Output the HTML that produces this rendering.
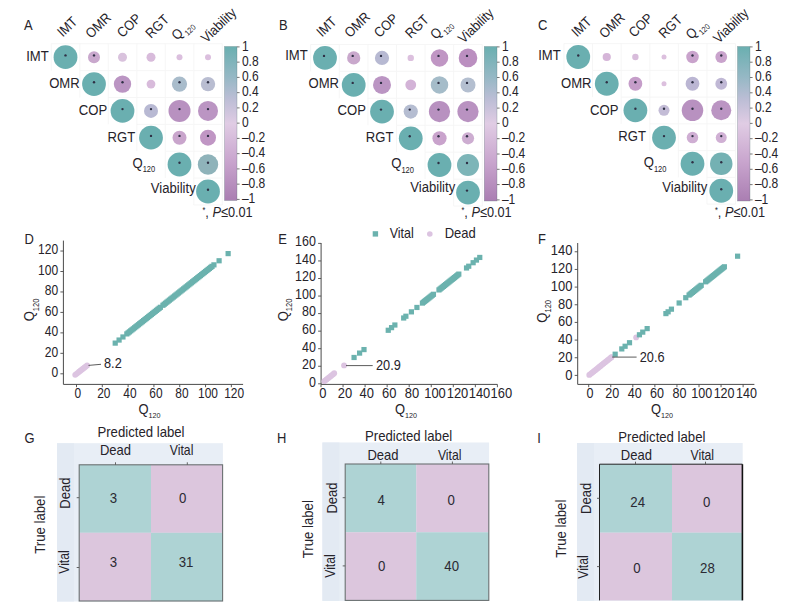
<!DOCTYPE html>
<html><head><meta charset="utf-8"><title>Figure</title>
<style>
html,body{margin:0;padding:0;background:#fff;}
body{width:800px;height:612px;overflow:hidden;font-family:"Liberation Sans",sans-serif;}
svg{display:block;font-family:"Liberation Sans",sans-serif;}
</style></head><body>
<svg width="800" height="612" viewBox="0 0 800 612">
<rect width="800" height="612" fill="#fff"/>
<defs><linearGradient id="cbgrad" x1="0" y1="0" x2="0" y2="1">
<stop offset="0.000" stop-color="#6aafb0"/>
<stop offset="0.200" stop-color="#96b8c5"/>
<stop offset="0.350" stop-color="#bebed6"/>
<stop offset="0.500" stop-color="#e0cce4"/>
<stop offset="0.750" stop-color="#c8a4cd"/>
<stop offset="1.000" stop-color="#aa7eb2"/>
</linearGradient></defs>
<path d="M51.25 43.77 H222.25 M51.25 43.77 V70.63" stroke="#f5f5f5" stroke-width="0.9" fill="none"/>
<path d="M79.75 70.63 H222.25 M79.75 70.63 V97.49" stroke="#f5f5f5" stroke-width="0.9" fill="none"/>
<path d="M108.25 97.49 H222.25 M108.25 97.49 V124.35" stroke="#f5f5f5" stroke-width="0.9" fill="none"/>
<path d="M136.75 124.35 H222.25 M136.75 124.35 V151.21" stroke="#f5f5f5" stroke-width="0.9" fill="none"/>
<path d="M165.25 151.21 H222.25 M165.25 151.21 V178.07" stroke="#f5f5f5" stroke-width="0.9" fill="none"/>
<path d="M193.75 178.07 H222.25 M193.75 178.07 V204.93" stroke="#f5f5f5" stroke-width="0.9" fill="none"/>
<path d="M222.25 43.77 V204.93 H193.75" stroke="#f5f5f5" stroke-width="0.9" fill="none"/>
<line x1="79.75" y1="43.77" x2="79.75" y2="70.63" stroke="#f5f5f5" stroke-width="0.9"/>
<line x1="108.25" y1="43.77" x2="108.25" y2="97.49" stroke="#f5f5f5" stroke-width="0.9"/>
<line x1="136.75" y1="43.77" x2="136.75" y2="124.35" stroke="#f5f5f5" stroke-width="0.9"/>
<line x1="165.25" y1="43.77" x2="165.25" y2="151.21" stroke="#f5f5f5" stroke-width="0.9"/>
<line x1="193.75" y1="43.77" x2="193.75" y2="178.07" stroke="#f5f5f5" stroke-width="0.9"/>
<text transform="translate(24.00 30.30) scale(0.9 1)" font-size="14.4" text-anchor="start" fill="#26232a">A</text>
<text transform="translate(62.75 37.60) rotate(-44) scale(0.9 1)" font-size="13.9" text-anchor="start" fill="#26232a">IMT</text>
<text transform="translate(90.90 38.90) rotate(-44) scale(0.9 1)" font-size="13.9" text-anchor="start" fill="#26232a">OMR</text>
<text transform="translate(122.50 38.25) rotate(-44) scale(0.9 1)" font-size="13.9" text-anchor="start" fill="#26232a">COP</text>
<text transform="translate(151.00 38.90) rotate(-44) scale(0.9 1)" font-size="13.9" text-anchor="start" fill="#26232a">RGT</text>
<text transform="translate(177.00 40.75) rotate(-44) scale(0.9 1)" font-size="13.9" text-anchor="start" fill="#26232a">Q<tspan font-size="8" dy="4.1" dx="1.2">120</tspan></text>
<text transform="translate(206.50 43.50) rotate(-44) scale(0.9 1)" font-size="13.9" text-anchor="start" fill="#26232a">Viability</text>
<text transform="translate(48.70 60.70) scale(0.885 1)" font-size="14.8" text-anchor="end" fill="#26232a">IMT</text>
<text transform="translate(79.70 87.60) scale(0.885 1)" font-size="14.8" text-anchor="end" fill="#26232a">OMR</text>
<text transform="translate(107.20 115.20) scale(0.885 1)" font-size="14.8" text-anchor="end" fill="#26232a">COP</text>
<text transform="translate(135.20 141.80) scale(0.885 1)" font-size="14.8" text-anchor="end" fill="#26232a">RGT</text>
<text transform="translate(132.50 168.00) scale(0.885 1)" font-size="14.8" text-anchor="start" fill="#26232a">Q<tspan font-size="8.5" dy="4.4" dx="0">120</tspan></text>
<text transform="translate(195.70 193.10) scale(0.885 1)" font-size="14.8" text-anchor="end" fill="#26232a">Viability</text>
<circle cx="65.50" cy="57.20" r="11.9" fill="#6aafb0"/>
<circle cx="65.50" cy="55.40" r="1.2" fill="#2f3045"/>
<circle cx="94.00" cy="84.10" r="11.9" fill="#6aafb0"/>
<circle cx="94.00" cy="82.30" r="1.2" fill="#2f3045"/>
<circle cx="122.50" cy="110.90" r="11.9" fill="#6aafb0"/>
<circle cx="122.50" cy="109.10" r="1.2" fill="#2f3045"/>
<circle cx="151.00" cy="137.70" r="11.9" fill="#6aafb0"/>
<circle cx="151.00" cy="135.90" r="1.2" fill="#2f3045"/>
<circle cx="179.50" cy="164.50" r="11.9" fill="#6aafb0"/>
<circle cx="179.50" cy="162.70" r="1.2" fill="#2f3045"/>
<circle cx="208.00" cy="191.50" r="11.9" fill="#6aafb0"/>
<circle cx="208.00" cy="189.70" r="1.2" fill="#2f3045"/>
<circle cx="94.00" cy="57.20" r="6" fill="#c9a8cd"/>
<circle cx="94.00" cy="55.40" r="1.2" fill="#2f3045"/>
<circle cx="122.50" cy="57.20" r="4.5" fill="#d9c2dd"/>
<circle cx="151.00" cy="57.20" r="4.5" fill="#d8bbdb"/>
<circle cx="179.50" cy="57.20" r="3" fill="#dbbfde"/>
<circle cx="208.00" cy="57.20" r="3" fill="#dbbfde"/>
<circle cx="122.50" cy="84.10" r="8.7" fill="#bb95c3"/>
<circle cx="122.50" cy="82.30" r="1.2" fill="#2f3045"/>
<circle cx="151.00" cy="84.10" r="4.4" fill="#d8bbdb"/>
<circle cx="179.50" cy="84.10" r="7.6" fill="#a9bccb"/>
<circle cx="179.50" cy="82.30" r="1.2" fill="#2f3045"/>
<circle cx="208.00" cy="84.10" r="7.2" fill="#b9bdd1"/>
<circle cx="208.00" cy="82.30" r="1.2" fill="#2f3045"/>
<circle cx="151.00" cy="110.90" r="7" fill="#b8b9d3"/>
<circle cx="151.00" cy="109.10" r="1.2" fill="#2f3045"/>
<circle cx="179.50" cy="110.90" r="11" fill="#b891c0"/>
<circle cx="179.50" cy="109.10" r="1.2" fill="#2f3045"/>
<circle cx="208.00" cy="110.90" r="10" fill="#bb95c3"/>
<circle cx="208.00" cy="109.10" r="1.2" fill="#2f3045"/>
<circle cx="179.50" cy="137.70" r="7" fill="#c9a5cc"/>
<circle cx="179.50" cy="135.90" r="1.2" fill="#2f3045"/>
<circle cx="208.00" cy="137.70" r="8" fill="#c096c4"/>
<circle cx="208.00" cy="135.90" r="1.2" fill="#2f3045"/>
<circle cx="208.00" cy="164.50" r="10.2" fill="#8fb3ba"/>
<circle cx="208.00" cy="162.70" r="1.2" fill="#2f3045"/>
<rect x="224.5" y="46.5" width="12.50" height="154.00" fill="url(#cbgrad)" stroke="#50686c" stroke-opacity="0.45" stroke-width="0.6"/>
<line x1="237" y1="46.90" x2="239.6" y2="46.90" stroke="#555" stroke-width="0.8"/>
<text transform="translate(241.90 50.50) scale(0.86 1)" font-size="14" text-anchor="start" fill="#26232a">1</text>
<line x1="237" y1="62.15" x2="239.6" y2="62.15" stroke="#555" stroke-width="0.8"/>
<text transform="translate(241.90 65.75) scale(0.86 1)" font-size="14" text-anchor="start" fill="#26232a">0.8</text>
<line x1="237" y1="77.40" x2="239.6" y2="77.40" stroke="#555" stroke-width="0.8"/>
<text transform="translate(241.90 81.00) scale(0.86 1)" font-size="14" text-anchor="start" fill="#26232a">0.6</text>
<line x1="237" y1="92.65" x2="239.6" y2="92.65" stroke="#555" stroke-width="0.8"/>
<text transform="translate(241.90 96.25) scale(0.86 1)" font-size="14" text-anchor="start" fill="#26232a">0.4</text>
<line x1="237" y1="107.90" x2="239.6" y2="107.90" stroke="#555" stroke-width="0.8"/>
<text transform="translate(241.90 111.50) scale(0.86 1)" font-size="14" text-anchor="start" fill="#26232a">0.2</text>
<line x1="237" y1="123.15" x2="239.6" y2="123.15" stroke="#555" stroke-width="0.8"/>
<text transform="translate(241.90 126.75) scale(0.86 1)" font-size="14" text-anchor="start" fill="#26232a">0</text>
<line x1="237" y1="138.40" x2="239.6" y2="138.40" stroke="#555" stroke-width="0.8"/>
<text transform="translate(241.90 142.00) scale(0.86 1)" font-size="14" text-anchor="start" fill="#26232a">–0.2</text>
<line x1="237" y1="153.65" x2="239.6" y2="153.65" stroke="#555" stroke-width="0.8"/>
<text transform="translate(241.90 157.25) scale(0.86 1)" font-size="14" text-anchor="start" fill="#26232a">–0.4</text>
<line x1="237" y1="168.90" x2="239.6" y2="168.90" stroke="#555" stroke-width="0.8"/>
<text transform="translate(241.90 172.50) scale(0.86 1)" font-size="14" text-anchor="start" fill="#26232a">–0.6</text>
<line x1="237" y1="184.15" x2="239.6" y2="184.15" stroke="#555" stroke-width="0.8"/>
<text transform="translate(241.90 187.75) scale(0.86 1)" font-size="14" text-anchor="start" fill="#26232a">–0.8</text>
<line x1="237" y1="199.40" x2="239.6" y2="199.40" stroke="#555" stroke-width="0.8"/>
<text transform="translate(241.90 203.00) scale(0.86 1)" font-size="14" text-anchor="start" fill="#26232a">–1</text>
<text transform="translate(202.50 217.30) scale(0.85 1)" font-size="15" text-anchor="start" fill="#26232a"><tspan font-size="8.5" dy="-4">*</tspan><tspan dy="4">, </tspan><tspan font-style="italic">P</tspan>≤0.01</text>
<path d="M310.70 44.43 H482.30 M310.70 44.43 V71.37" stroke="#f5f5f5" stroke-width="0.9" fill="none"/>
<path d="M339.30 71.37 H482.30 M339.30 71.37 V98.31" stroke="#f5f5f5" stroke-width="0.9" fill="none"/>
<path d="M367.90 98.31 H482.30 M367.90 98.31 V125.25" stroke="#f5f5f5" stroke-width="0.9" fill="none"/>
<path d="M396.50 125.25 H482.30 M396.50 125.25 V152.19" stroke="#f5f5f5" stroke-width="0.9" fill="none"/>
<path d="M425.10 152.19 H482.30 M425.10 152.19 V179.13" stroke="#f5f5f5" stroke-width="0.9" fill="none"/>
<path d="M453.70 179.13 H482.30 M453.70 179.13 V206.07" stroke="#f5f5f5" stroke-width="0.9" fill="none"/>
<path d="M482.30 44.43 V206.07 H453.70" stroke="#f5f5f5" stroke-width="0.9" fill="none"/>
<line x1="339.30" y1="44.43" x2="339.30" y2="71.37" stroke="#f5f5f5" stroke-width="0.9"/>
<line x1="367.90" y1="44.43" x2="367.90" y2="98.31" stroke="#f5f5f5" stroke-width="0.9"/>
<line x1="396.50" y1="44.43" x2="396.50" y2="125.25" stroke="#f5f5f5" stroke-width="0.9"/>
<line x1="425.10" y1="44.43" x2="425.10" y2="152.19" stroke="#f5f5f5" stroke-width="0.9"/>
<line x1="453.70" y1="44.43" x2="453.70" y2="179.13" stroke="#f5f5f5" stroke-width="0.9"/>
<text transform="translate(279.00 30.30) scale(0.9 1)" font-size="14.4" text-anchor="start" fill="#26232a">B</text>
<text transform="translate(321.90 37.60) rotate(-44) scale(0.9 1)" font-size="13.9" text-anchor="start" fill="#26232a">IMT</text>
<text transform="translate(349.95 38.25) rotate(-44) scale(0.9 1)" font-size="13.9" text-anchor="start" fill="#26232a">OMR</text>
<text transform="translate(379.50 38.25) rotate(-44) scale(0.9 1)" font-size="13.9" text-anchor="start" fill="#26232a">COP</text>
<text transform="translate(410.75 39.00) rotate(-44) scale(0.9 1)" font-size="13.9" text-anchor="start" fill="#26232a">RGT</text>
<text transform="translate(435.75 40.10) rotate(-44) scale(0.9 1)" font-size="13.9" text-anchor="start" fill="#26232a">Q<tspan font-size="8" dy="4.1" dx="1.2">120</tspan></text>
<text transform="translate(463.60 43.90) rotate(-44) scale(0.9 1)" font-size="13.9" text-anchor="start" fill="#26232a">Viability</text>
<text transform="translate(307.70 60.20) scale(0.885 1)" font-size="14.8" text-anchor="end" fill="#26232a">IMT</text>
<text transform="translate(339.00 87.70) scale(0.885 1)" font-size="14.8" text-anchor="end" fill="#26232a">OMR</text>
<text transform="translate(366.00 114.60) scale(0.885 1)" font-size="14.8" text-anchor="end" fill="#26232a">COP</text>
<text transform="translate(393.50 141.90) scale(0.885 1)" font-size="14.8" text-anchor="end" fill="#26232a">RGT</text>
<text transform="translate(391.25 168.10) scale(0.885 1)" font-size="14.8" text-anchor="start" fill="#26232a">Q<tspan font-size="8.5" dy="4.4" dx="0">120</tspan></text>
<text transform="translate(455.20 192.20) scale(0.885 1)" font-size="14.8" text-anchor="end" fill="#26232a">Viability</text>
<circle cx="325.00" cy="57.90" r="11.9" fill="#6aafb0"/>
<circle cx="324.00" cy="55.90" r="1.2" fill="#2f3045"/>
<circle cx="353.70" cy="84.90" r="11.9" fill="#6aafb0"/>
<circle cx="352.70" cy="82.90" r="1.2" fill="#2f3045"/>
<circle cx="382.00" cy="111.60" r="11.9" fill="#6aafb0"/>
<circle cx="381.00" cy="109.60" r="1.2" fill="#2f3045"/>
<circle cx="410.75" cy="138.30" r="11.9" fill="#6aafb0"/>
<circle cx="409.75" cy="136.30" r="1.2" fill="#2f3045"/>
<circle cx="439.50" cy="165.00" r="11.9" fill="#6aafb0"/>
<circle cx="438.50" cy="163.00" r="1.2" fill="#2f3045"/>
<circle cx="468.00" cy="192.60" r="11.9" fill="#6aafb0"/>
<circle cx="467.00" cy="190.60" r="1.2" fill="#2f3045"/>
<circle cx="353.70" cy="57.90" r="6.6" fill="#c9a8cc"/>
<circle cx="352.70" cy="55.90" r="1.2" fill="#2f3045"/>
<circle cx="382.00" cy="57.90" r="7.1" fill="#b7b9d2"/>
<circle cx="381.00" cy="55.90" r="1.2" fill="#2f3045"/>
<circle cx="410.75" cy="57.90" r="3.2" fill="#dcc0de"/>
<circle cx="439.50" cy="57.90" r="8.75" fill="#c096c4"/>
<circle cx="438.50" cy="55.90" r="1.2" fill="#2f3045"/>
<circle cx="468.00" cy="57.90" r="9.3" fill="#bb8fc0"/>
<circle cx="467.00" cy="55.90" r="1.2" fill="#2f3045"/>
<circle cx="382.00" cy="84.90" r="9" fill="#bb95c3"/>
<circle cx="381.00" cy="82.90" r="1.2" fill="#2f3045"/>
<circle cx="410.75" cy="84.90" r="5.4" fill="#d3b3d7"/>
<circle cx="439.50" cy="84.90" r="8.75" fill="#a5bcc9"/>
<circle cx="438.50" cy="82.90" r="1.2" fill="#2f3045"/>
<circle cx="468.00" cy="84.90" r="7.5" fill="#b4bfd0"/>
<circle cx="467.00" cy="82.90" r="1.2" fill="#2f3045"/>
<circle cx="410.75" cy="111.60" r="7.1" fill="#b5bdd1"/>
<circle cx="409.75" cy="109.60" r="1.2" fill="#2f3045"/>
<circle cx="439.50" cy="111.60" r="10.6" fill="#b891c0"/>
<circle cx="438.50" cy="109.60" r="1.2" fill="#2f3045"/>
<circle cx="468.00" cy="111.60" r="10.6" fill="#b992c1"/>
<circle cx="467.00" cy="109.60" r="1.2" fill="#2f3045"/>
<circle cx="439.50" cy="138.30" r="7.1" fill="#c9a3cc"/>
<circle cx="438.50" cy="136.30" r="1.2" fill="#2f3045"/>
<circle cx="468.00" cy="138.30" r="6.1" fill="#cdadd1"/>
<circle cx="467.00" cy="136.30" r="1.2" fill="#2f3045"/>
<circle cx="468.00" cy="165.00" r="11" fill="#7db5b8"/>
<circle cx="467.00" cy="163.00" r="1.2" fill="#2f3045"/>
<rect x="484.3" y="46.5" width="12.70" height="154.50" fill="url(#cbgrad)" stroke="#50686c" stroke-opacity="0.45" stroke-width="0.6"/>
<line x1="497" y1="46.90" x2="499.6" y2="46.90" stroke="#555" stroke-width="0.8"/>
<text transform="translate(501.90 50.50) scale(0.86 1)" font-size="14" text-anchor="start" fill="#26232a">1</text>
<line x1="497" y1="62.20" x2="499.6" y2="62.20" stroke="#555" stroke-width="0.8"/>
<text transform="translate(501.90 65.80) scale(0.86 1)" font-size="14" text-anchor="start" fill="#26232a">0.8</text>
<line x1="497" y1="77.50" x2="499.6" y2="77.50" stroke="#555" stroke-width="0.8"/>
<text transform="translate(501.90 81.10) scale(0.86 1)" font-size="14" text-anchor="start" fill="#26232a">0.6</text>
<line x1="497" y1="92.80" x2="499.6" y2="92.80" stroke="#555" stroke-width="0.8"/>
<text transform="translate(501.90 96.40) scale(0.86 1)" font-size="14" text-anchor="start" fill="#26232a">0.4</text>
<line x1="497" y1="108.10" x2="499.6" y2="108.10" stroke="#555" stroke-width="0.8"/>
<text transform="translate(501.90 111.70) scale(0.86 1)" font-size="14" text-anchor="start" fill="#26232a">0.2</text>
<line x1="497" y1="123.40" x2="499.6" y2="123.40" stroke="#555" stroke-width="0.8"/>
<text transform="translate(501.90 127.00) scale(0.86 1)" font-size="14" text-anchor="start" fill="#26232a">0</text>
<line x1="497" y1="138.70" x2="499.6" y2="138.70" stroke="#555" stroke-width="0.8"/>
<text transform="translate(501.90 142.30) scale(0.86 1)" font-size="14" text-anchor="start" fill="#26232a">–0.2</text>
<line x1="497" y1="154.00" x2="499.6" y2="154.00" stroke="#555" stroke-width="0.8"/>
<text transform="translate(501.90 157.60) scale(0.86 1)" font-size="14" text-anchor="start" fill="#26232a">–0.4</text>
<line x1="497" y1="169.30" x2="499.6" y2="169.30" stroke="#555" stroke-width="0.8"/>
<text transform="translate(501.90 172.90) scale(0.86 1)" font-size="14" text-anchor="start" fill="#26232a">–0.6</text>
<line x1="497" y1="184.60" x2="499.6" y2="184.60" stroke="#555" stroke-width="0.8"/>
<text transform="translate(501.90 188.20) scale(0.86 1)" font-size="14" text-anchor="start" fill="#26232a">–0.8</text>
<line x1="497" y1="199.90" x2="499.6" y2="199.90" stroke="#555" stroke-width="0.8"/>
<text transform="translate(501.90 203.50) scale(0.86 1)" font-size="14" text-anchor="start" fill="#26232a">–1</text>
<text transform="translate(461.50 217.30) scale(0.85 1)" font-size="15" text-anchor="start" fill="#26232a"><tspan font-size="8.5" dy="-4">*</tspan><tspan dy="4">, </tspan><tspan font-style="italic">P</tspan>≤0.01</text>
<path d="M563.95 43.62 H735.55 M563.95 43.62 V70.38" stroke="#f5f5f5" stroke-width="0.9" fill="none"/>
<path d="M592.55 70.38 H735.55 M592.55 70.38 V97.12" stroke="#f5f5f5" stroke-width="0.9" fill="none"/>
<path d="M621.15 97.12 H735.55 M621.15 97.12 V123.88" stroke="#f5f5f5" stroke-width="0.9" fill="none"/>
<path d="M649.75 123.88 H735.55 M649.75 123.88 V150.62" stroke="#f5f5f5" stroke-width="0.9" fill="none"/>
<path d="M678.35 150.62 H735.55 M678.35 150.62 V177.38" stroke="#f5f5f5" stroke-width="0.9" fill="none"/>
<path d="M706.95 177.38 H735.55 M706.95 177.38 V204.12" stroke="#f5f5f5" stroke-width="0.9" fill="none"/>
<path d="M735.55 43.62 V204.12 H706.95" stroke="#f5f5f5" stroke-width="0.9" fill="none"/>
<line x1="592.55" y1="43.62" x2="592.55" y2="70.38" stroke="#f5f5f5" stroke-width="0.9"/>
<line x1="621.15" y1="43.62" x2="621.15" y2="97.12" stroke="#f5f5f5" stroke-width="0.9"/>
<line x1="649.75" y1="43.62" x2="649.75" y2="123.88" stroke="#f5f5f5" stroke-width="0.9"/>
<line x1="678.35" y1="43.62" x2="678.35" y2="150.62" stroke="#f5f5f5" stroke-width="0.9"/>
<line x1="706.95" y1="43.62" x2="706.95" y2="177.38" stroke="#f5f5f5" stroke-width="0.9"/>
<text transform="translate(538.00 30.30) scale(0.9 1)" font-size="14.4" text-anchor="start" fill="#26232a">C</text>
<text transform="translate(577.00 37.60) rotate(-44) scale(0.9 1)" font-size="13.9" text-anchor="start" fill="#26232a">IMT</text>
<text transform="translate(604.85 38.90) rotate(-44) scale(0.9 1)" font-size="13.9" text-anchor="start" fill="#26232a">OMR</text>
<text transform="translate(634.15 38.00) rotate(-44) scale(0.9 1)" font-size="13.9" text-anchor="start" fill="#26232a">COP</text>
<text transform="translate(664.30 39.00) rotate(-44) scale(0.9 1)" font-size="13.9" text-anchor="start" fill="#26232a">RGT</text>
<text transform="translate(691.25 40.10) rotate(-44) scale(0.9 1)" font-size="13.9" text-anchor="start" fill="#26232a">Q<tspan font-size="8" dy="4.1" dx="1.2">120</tspan></text>
<text transform="translate(718.75 43.90) rotate(-44) scale(0.9 1)" font-size="13.9" text-anchor="start" fill="#26232a">Viability</text>
<text transform="translate(560.70 60.10) scale(0.885 1)" font-size="14.8" text-anchor="end" fill="#26232a">IMT</text>
<text transform="translate(591.50 87.55) scale(0.885 1)" font-size="14.8" text-anchor="end" fill="#26232a">OMR</text>
<text transform="translate(618.50 115.10) scale(0.885 1)" font-size="14.8" text-anchor="end" fill="#26232a">COP</text>
<text transform="translate(646.00 141.00) scale(0.885 1)" font-size="14.8" text-anchor="end" fill="#26232a">RGT</text>
<text transform="translate(643.75 167.25) scale(0.885 1)" font-size="14.8" text-anchor="start" fill="#26232a">Q<tspan font-size="8.5" dy="4.4" dx="0">120</tspan></text>
<text transform="translate(707.20 191.95) scale(0.885 1)" font-size="14.8" text-anchor="end" fill="#26232a">Viability</text>
<circle cx="578.25" cy="57.00" r="11.9" fill="#6aafb0"/>
<circle cx="578.25" cy="55.50" r="1.2" fill="#2f3045"/>
<circle cx="606.75" cy="83.75" r="11.9" fill="#6aafb0"/>
<circle cx="606.75" cy="82.25" r="1.2" fill="#2f3045"/>
<circle cx="635.40" cy="110.30" r="11.9" fill="#6aafb0"/>
<circle cx="635.40" cy="108.80" r="1.2" fill="#2f3045"/>
<circle cx="664.00" cy="137.60" r="11.9" fill="#6aafb0"/>
<circle cx="664.00" cy="136.10" r="1.2" fill="#2f3045"/>
<circle cx="692.50" cy="163.75" r="11.9" fill="#6aafb0"/>
<circle cx="692.50" cy="162.25" r="1.2" fill="#2f3045"/>
<circle cx="721.25" cy="190.75" r="11.9" fill="#6aafb0"/>
<circle cx="721.25" cy="189.25" r="1.2" fill="#2f3045"/>
<circle cx="606.75" cy="57.00" r="4.1" fill="#d5b5d8"/>
<circle cx="635.40" cy="57.00" r="3.2" fill="#d8bcdb"/>
<circle cx="664.00" cy="57.00" r="2.5" fill="#dcc0de"/>
<circle cx="692.50" cy="57.00" r="6.25" fill="#c9a3cc"/>
<circle cx="692.50" cy="55.50" r="1.2" fill="#2f3045"/>
<circle cx="721.25" cy="57.00" r="5.9" fill="#c9a3cc"/>
<circle cx="721.25" cy="55.50" r="1.2" fill="#2f3045"/>
<circle cx="635.40" cy="83.75" r="6.9" fill="#c59dc9"/>
<circle cx="635.40" cy="82.25" r="1.2" fill="#2f3045"/>
<circle cx="664.00" cy="83.75" r="2.5" fill="#dcc0de"/>
<circle cx="692.50" cy="83.75" r="6.9" fill="#bbb6d3"/>
<circle cx="692.50" cy="82.25" r="1.2" fill="#2f3045"/>
<circle cx="721.25" cy="83.75" r="5.9" fill="#c0b8d5"/>
<circle cx="721.25" cy="82.25" r="1.2" fill="#2f3045"/>
<circle cx="664.00" cy="110.30" r="5.5" fill="#c3bcd6"/>
<circle cx="664.00" cy="108.80" r="1.2" fill="#2f3045"/>
<circle cx="692.50" cy="110.30" r="10.75" fill="#b891c0"/>
<circle cx="692.50" cy="108.80" r="1.2" fill="#2f3045"/>
<circle cx="721.25" cy="110.30" r="10" fill="#bb95c3"/>
<circle cx="721.25" cy="108.80" r="1.2" fill="#2f3045"/>
<circle cx="692.50" cy="137.60" r="5.75" fill="#cfaed3"/>
<circle cx="692.50" cy="136.10" r="1.2" fill="#2f3045"/>
<circle cx="721.25" cy="137.60" r="5.5" fill="#d0b0d4"/>
<circle cx="721.25" cy="136.10" r="1.2" fill="#2f3045"/>
<circle cx="721.25" cy="163.75" r="11.25" fill="#74b1b3"/>
<circle cx="721.25" cy="162.25" r="1.2" fill="#2f3045"/>
<rect x="737.5" y="46.5" width="12.50" height="154.50" fill="url(#cbgrad)" stroke="#50686c" stroke-opacity="0.45" stroke-width="0.6"/>
<line x1="750" y1="46.90" x2="752.6" y2="46.90" stroke="#555" stroke-width="0.8"/>
<text transform="translate(754.90 50.50) scale(0.86 1)" font-size="14" text-anchor="start" fill="#26232a">1</text>
<line x1="750" y1="62.20" x2="752.6" y2="62.20" stroke="#555" stroke-width="0.8"/>
<text transform="translate(754.90 65.80) scale(0.86 1)" font-size="14" text-anchor="start" fill="#26232a">0.8</text>
<line x1="750" y1="77.50" x2="752.6" y2="77.50" stroke="#555" stroke-width="0.8"/>
<text transform="translate(754.90 81.10) scale(0.86 1)" font-size="14" text-anchor="start" fill="#26232a">0.6</text>
<line x1="750" y1="92.80" x2="752.6" y2="92.80" stroke="#555" stroke-width="0.8"/>
<text transform="translate(754.90 96.40) scale(0.86 1)" font-size="14" text-anchor="start" fill="#26232a">0.4</text>
<line x1="750" y1="108.10" x2="752.6" y2="108.10" stroke="#555" stroke-width="0.8"/>
<text transform="translate(754.90 111.70) scale(0.86 1)" font-size="14" text-anchor="start" fill="#26232a">0.2</text>
<line x1="750" y1="123.40" x2="752.6" y2="123.40" stroke="#555" stroke-width="0.8"/>
<text transform="translate(754.90 127.00) scale(0.86 1)" font-size="14" text-anchor="start" fill="#26232a">0</text>
<line x1="750" y1="138.70" x2="752.6" y2="138.70" stroke="#555" stroke-width="0.8"/>
<text transform="translate(754.90 142.30) scale(0.86 1)" font-size="14" text-anchor="start" fill="#26232a">–0.2</text>
<line x1="750" y1="154.00" x2="752.6" y2="154.00" stroke="#555" stroke-width="0.8"/>
<text transform="translate(754.90 157.60) scale(0.86 1)" font-size="14" text-anchor="start" fill="#26232a">–0.4</text>
<line x1="750" y1="169.30" x2="752.6" y2="169.30" stroke="#555" stroke-width="0.8"/>
<text transform="translate(754.90 172.90) scale(0.86 1)" font-size="14" text-anchor="start" fill="#26232a">–0.6</text>
<line x1="750" y1="184.60" x2="752.6" y2="184.60" stroke="#555" stroke-width="0.8"/>
<text transform="translate(754.90 188.20) scale(0.86 1)" font-size="14" text-anchor="start" fill="#26232a">–0.8</text>
<line x1="750" y1="199.90" x2="752.6" y2="199.90" stroke="#555" stroke-width="0.8"/>
<text transform="translate(754.90 203.50) scale(0.86 1)" font-size="14" text-anchor="start" fill="#26232a">–1</text>
<text transform="translate(715.00 217.30) scale(0.85 1)" font-size="15" text-anchor="start" fill="#26232a"><tspan font-size="8.5" dy="-4">*</tspan><tspan dy="4">, </tspan><tspan font-style="italic">P</tspan>≤0.01</text>
<path d="M63.4 240.6 V384.4 H243.1" fill="none" stroke="#4a4a4a" stroke-width="1"/>
<text transform="translate(24.60 244.00) scale(0.9 1)" font-size="14.4" text-anchor="start" fill="#26232a">D</text>
<line x1="60.4" y1="373.80" x2="63.4" y2="373.80" stroke="#4a4a4a" stroke-width="0.9"/>
<text transform="translate(58.10 377.00) scale(0.85 1)" font-size="14.2" text-anchor="end" fill="#26232a">0</text>
<line x1="60.4" y1="353.34" x2="63.4" y2="353.34" stroke="#4a4a4a" stroke-width="0.9"/>
<text transform="translate(58.10 356.54) scale(0.85 1)" font-size="14.2" text-anchor="end" fill="#26232a">20</text>
<line x1="60.4" y1="332.88" x2="63.4" y2="332.88" stroke="#4a4a4a" stroke-width="0.9"/>
<text transform="translate(58.10 336.08) scale(0.85 1)" font-size="14.2" text-anchor="end" fill="#26232a">40</text>
<line x1="60.4" y1="312.42" x2="63.4" y2="312.42" stroke="#4a4a4a" stroke-width="0.9"/>
<text transform="translate(58.10 315.62) scale(0.85 1)" font-size="14.2" text-anchor="end" fill="#26232a">60</text>
<line x1="60.4" y1="291.96" x2="63.4" y2="291.96" stroke="#4a4a4a" stroke-width="0.9"/>
<text transform="translate(58.10 295.16) scale(0.85 1)" font-size="14.2" text-anchor="end" fill="#26232a">80</text>
<line x1="60.4" y1="271.50" x2="63.4" y2="271.50" stroke="#4a4a4a" stroke-width="0.9"/>
<text transform="translate(58.10 274.70) scale(0.85 1)" font-size="14.2" text-anchor="end" fill="#26232a">100</text>
<line x1="60.4" y1="251.04" x2="63.4" y2="251.04" stroke="#4a4a4a" stroke-width="0.9"/>
<text transform="translate(58.10 254.24) scale(0.85 1)" font-size="14.2" text-anchor="end" fill="#26232a">120</text>
<line x1="76.50" y1="384.4" x2="76.50" y2="387.2" stroke="#4a4a4a" stroke-width="0.9"/>
<text transform="translate(77.80 397.70) scale(0.84 1)" font-size="14.2" text-anchor="middle" fill="#26232a">0</text>
<line x1="102.31" y1="384.4" x2="102.31" y2="387.2" stroke="#4a4a4a" stroke-width="0.9"/>
<text transform="translate(103.85 397.70) scale(0.84 1)" font-size="14.2" text-anchor="middle" fill="#26232a">20</text>
<line x1="128.12" y1="384.4" x2="128.12" y2="387.2" stroke="#4a4a4a" stroke-width="0.9"/>
<text transform="translate(129.90 397.70) scale(0.84 1)" font-size="14.2" text-anchor="middle" fill="#26232a">40</text>
<line x1="153.93" y1="384.4" x2="153.93" y2="387.2" stroke="#4a4a4a" stroke-width="0.9"/>
<text transform="translate(155.95 397.70) scale(0.84 1)" font-size="14.2" text-anchor="middle" fill="#26232a">60</text>
<line x1="179.74" y1="384.4" x2="179.74" y2="387.2" stroke="#4a4a4a" stroke-width="0.9"/>
<text transform="translate(182.00 397.70) scale(0.84 1)" font-size="14.2" text-anchor="middle" fill="#26232a">80</text>
<line x1="205.55" y1="384.4" x2="205.55" y2="387.2" stroke="#4a4a4a" stroke-width="0.9"/>
<text transform="translate(208.05 397.70) scale(0.84 1)" font-size="14.2" text-anchor="middle" fill="#26232a">100</text>
<line x1="231.36" y1="384.4" x2="231.36" y2="387.2" stroke="#4a4a4a" stroke-width="0.9"/>
<text transform="translate(234.10 397.70) scale(0.84 1)" font-size="14.2" text-anchor="middle" fill="#26232a">120</text>
<circle cx="75.21" cy="374.82" r="2.9" fill="#dcc4e1"/>
<circle cx="76.50" cy="373.80" r="2.9" fill="#dcc4e1"/>
<circle cx="77.79" cy="372.78" r="2.9" fill="#dcc4e1"/>
<circle cx="79.08" cy="371.75" r="2.9" fill="#dcc4e1"/>
<circle cx="80.37" cy="370.73" r="2.9" fill="#dcc4e1"/>
<circle cx="81.66" cy="369.71" r="2.9" fill="#dcc4e1"/>
<circle cx="82.95" cy="368.69" r="2.9" fill="#dcc4e1"/>
<circle cx="84.24" cy="367.66" r="2.9" fill="#dcc4e1"/>
<circle cx="85.53" cy="366.64" r="2.9" fill="#dcc4e1"/>
<circle cx="87.08" cy="365.41" r="2.9" fill="#dcc4e1"/>
<rect x="112.62" y="340.51" width="5.2" height="5.2" fill="#6bb2ae"/>
<rect x="116.49" y="337.44" width="5.2" height="5.2" fill="#6bb2ae"/>
<rect x="120.36" y="334.37" width="5.2" height="5.2" fill="#6bb2ae"/>
<rect x="124.23" y="331.30" width="5.2" height="5.2" fill="#6bb2ae"/>
<rect x="125.52" y="330.28" width="5.2" height="5.2" fill="#6bb2ae"/>
<rect x="126.81" y="329.26" width="5.2" height="5.2" fill="#6bb2ae"/>
<rect x="128.10" y="328.23" width="5.2" height="5.2" fill="#6bb2ae"/>
<rect x="129.39" y="327.21" width="5.2" height="5.2" fill="#6bb2ae"/>
<rect x="130.68" y="326.19" width="5.2" height="5.2" fill="#6bb2ae"/>
<rect x="131.97" y="325.16" width="5.2" height="5.2" fill="#6bb2ae"/>
<rect x="133.26" y="324.14" width="5.2" height="5.2" fill="#6bb2ae"/>
<rect x="134.55" y="323.12" width="5.2" height="5.2" fill="#6bb2ae"/>
<rect x="135.84" y="322.10" width="5.2" height="5.2" fill="#6bb2ae"/>
<rect x="137.13" y="321.07" width="5.2" height="5.2" fill="#6bb2ae"/>
<rect x="138.43" y="320.05" width="5.2" height="5.2" fill="#6bb2ae"/>
<rect x="139.72" y="319.03" width="5.2" height="5.2" fill="#6bb2ae"/>
<rect x="141.01" y="318.00" width="5.2" height="5.2" fill="#6bb2ae"/>
<rect x="142.30" y="316.98" width="5.2" height="5.2" fill="#6bb2ae"/>
<rect x="143.59" y="315.96" width="5.2" height="5.2" fill="#6bb2ae"/>
<rect x="144.88" y="314.94" width="5.2" height="5.2" fill="#6bb2ae"/>
<rect x="146.17" y="313.91" width="5.2" height="5.2" fill="#6bb2ae"/>
<rect x="147.46" y="312.89" width="5.2" height="5.2" fill="#6bb2ae"/>
<rect x="148.75" y="311.87" width="5.2" height="5.2" fill="#6bb2ae"/>
<rect x="150.04" y="310.84" width="5.2" height="5.2" fill="#6bb2ae"/>
<rect x="151.33" y="309.82" width="5.2" height="5.2" fill="#6bb2ae"/>
<rect x="152.62" y="308.80" width="5.2" height="5.2" fill="#6bb2ae"/>
<rect x="153.91" y="307.77" width="5.2" height="5.2" fill="#6bb2ae"/>
<rect x="155.20" y="306.75" width="5.2" height="5.2" fill="#6bb2ae"/>
<rect x="156.49" y="305.73" width="5.2" height="5.2" fill="#6bb2ae"/>
<rect x="157.78" y="304.70" width="5.2" height="5.2" fill="#6bb2ae"/>
<rect x="160.36" y="302.66" width="5.2" height="5.2" fill="#6bb2ae"/>
<rect x="161.65" y="301.64" width="5.2" height="5.2" fill="#6bb2ae"/>
<rect x="162.94" y="300.61" width="5.2" height="5.2" fill="#6bb2ae"/>
<rect x="164.23" y="299.59" width="5.2" height="5.2" fill="#6bb2ae"/>
<rect x="165.53" y="298.57" width="5.2" height="5.2" fill="#6bb2ae"/>
<rect x="166.82" y="297.54" width="5.2" height="5.2" fill="#6bb2ae"/>
<rect x="168.11" y="296.52" width="5.2" height="5.2" fill="#6bb2ae"/>
<rect x="169.40" y="295.50" width="5.2" height="5.2" fill="#6bb2ae"/>
<rect x="170.69" y="294.48" width="5.2" height="5.2" fill="#6bb2ae"/>
<rect x="171.98" y="293.45" width="5.2" height="5.2" fill="#6bb2ae"/>
<rect x="173.27" y="292.43" width="5.2" height="5.2" fill="#6bb2ae"/>
<rect x="174.56" y="291.41" width="5.2" height="5.2" fill="#6bb2ae"/>
<rect x="175.85" y="290.38" width="5.2" height="5.2" fill="#6bb2ae"/>
<rect x="177.14" y="289.36" width="5.2" height="5.2" fill="#6bb2ae"/>
<rect x="178.43" y="288.34" width="5.2" height="5.2" fill="#6bb2ae"/>
<rect x="179.72" y="287.31" width="5.2" height="5.2" fill="#6bb2ae"/>
<rect x="181.01" y="286.29" width="5.2" height="5.2" fill="#6bb2ae"/>
<rect x="182.30" y="285.27" width="5.2" height="5.2" fill="#6bb2ae"/>
<rect x="183.59" y="284.25" width="5.2" height="5.2" fill="#6bb2ae"/>
<rect x="184.88" y="283.22" width="5.2" height="5.2" fill="#6bb2ae"/>
<rect x="186.17" y="282.20" width="5.2" height="5.2" fill="#6bb2ae"/>
<rect x="187.46" y="281.18" width="5.2" height="5.2" fill="#6bb2ae"/>
<rect x="188.75" y="280.15" width="5.2" height="5.2" fill="#6bb2ae"/>
<rect x="190.04" y="279.13" width="5.2" height="5.2" fill="#6bb2ae"/>
<rect x="191.34" y="278.11" width="5.2" height="5.2" fill="#6bb2ae"/>
<rect x="192.63" y="277.08" width="5.2" height="5.2" fill="#6bb2ae"/>
<rect x="193.92" y="276.06" width="5.2" height="5.2" fill="#6bb2ae"/>
<rect x="195.21" y="275.04" width="5.2" height="5.2" fill="#6bb2ae"/>
<rect x="196.50" y="274.01" width="5.2" height="5.2" fill="#6bb2ae"/>
<rect x="197.79" y="272.99" width="5.2" height="5.2" fill="#6bb2ae"/>
<rect x="199.08" y="271.97" width="5.2" height="5.2" fill="#6bb2ae"/>
<rect x="200.37" y="270.95" width="5.2" height="5.2" fill="#6bb2ae"/>
<rect x="201.66" y="269.92" width="5.2" height="5.2" fill="#6bb2ae"/>
<rect x="202.95" y="268.90" width="5.2" height="5.2" fill="#6bb2ae"/>
<rect x="204.24" y="267.88" width="5.2" height="5.2" fill="#6bb2ae"/>
<rect x="205.53" y="266.85" width="5.2" height="5.2" fill="#6bb2ae"/>
<rect x="206.82" y="265.83" width="5.2" height="5.2" fill="#6bb2ae"/>
<rect x="208.11" y="264.81" width="5.2" height="5.2" fill="#6bb2ae"/>
<rect x="209.40" y="263.78" width="5.2" height="5.2" fill="#6bb2ae"/>
<rect x="211.34" y="262.25" width="5.2" height="5.2" fill="#6bb2ae"/>
<rect x="216.50" y="258.16" width="5.2" height="5.2" fill="#6bb2ae"/>
<rect x="225.53" y="251.00" width="5.2" height="5.2" fill="#6bb2ae"/>
<line x1="88.5" y1="365.4" x2="101" y2="364.3" stroke="#4a4a4a" stroke-width="0.9"/>
<text transform="translate(104.00 367.50) scale(0.9 1)" font-size="14.2" text-anchor="start" fill="#26232a">8.2</text>
<text transform="translate(34.00 310.00) rotate(-90) scale(0.9 1)" font-size="14.4" text-anchor="middle" fill="#26232a">Q<tspan font-size="8.4" dy="4.6" dx="0">120</tspan></text>
<text transform="translate(138.50 414.00) scale(0.9 1)" font-size="14.4" text-anchor="start" fill="#26232a">Q<tspan font-size="8" dy="4.4" dx="0">120</tspan></text>
<path d="M321.1 243 V384.4 H497.4" fill="none" stroke="#4a4a4a" stroke-width="1"/>
<text transform="translate(278.30 243.80) scale(0.9 1)" font-size="14.4" text-anchor="start" fill="#26232a">E</text>
<line x1="318.1" y1="383.80" x2="321.1" y2="383.80" stroke="#4a4a4a" stroke-width="0.9"/>
<text transform="translate(315.80 386.60) scale(0.877 1)" font-size="14.2" text-anchor="end" fill="#26232a">0</text>
<line x1="318.1" y1="366.25" x2="321.1" y2="366.25" stroke="#4a4a4a" stroke-width="0.9"/>
<text transform="translate(315.80 369.05) scale(0.877 1)" font-size="14.2" text-anchor="end" fill="#26232a">20</text>
<line x1="318.1" y1="348.70" x2="321.1" y2="348.70" stroke="#4a4a4a" stroke-width="0.9"/>
<text transform="translate(315.80 351.50) scale(0.877 1)" font-size="14.2" text-anchor="end" fill="#26232a">40</text>
<line x1="318.1" y1="331.15" x2="321.1" y2="331.15" stroke="#4a4a4a" stroke-width="0.9"/>
<text transform="translate(315.80 333.95) scale(0.877 1)" font-size="14.2" text-anchor="end" fill="#26232a">60</text>
<line x1="318.1" y1="313.60" x2="321.1" y2="313.60" stroke="#4a4a4a" stroke-width="0.9"/>
<text transform="translate(315.80 316.40) scale(0.877 1)" font-size="14.2" text-anchor="end" fill="#26232a">80</text>
<line x1="318.1" y1="296.05" x2="321.1" y2="296.05" stroke="#4a4a4a" stroke-width="0.9"/>
<text transform="translate(315.80 298.85) scale(0.877 1)" font-size="14.2" text-anchor="end" fill="#26232a">100</text>
<line x1="318.1" y1="278.50" x2="321.1" y2="278.50" stroke="#4a4a4a" stroke-width="0.9"/>
<text transform="translate(315.80 281.30) scale(0.877 1)" font-size="14.2" text-anchor="end" fill="#26232a">120</text>
<line x1="318.1" y1="260.95" x2="321.1" y2="260.95" stroke="#4a4a4a" stroke-width="0.9"/>
<text transform="translate(315.80 263.75) scale(0.877 1)" font-size="14.2" text-anchor="end" fill="#26232a">140</text>
<line x1="318.1" y1="243.40" x2="321.1" y2="243.40" stroke="#4a4a4a" stroke-width="0.9"/>
<text transform="translate(315.80 246.20) scale(0.877 1)" font-size="14.2" text-anchor="end" fill="#26232a">160</text>
<line x1="321.00" y1="384.4" x2="321.00" y2="387.2" stroke="#4a4a4a" stroke-width="0.9"/>
<text transform="translate(322.90 397.70) scale(0.91 1)" font-size="14.2" text-anchor="middle" fill="#26232a">0</text>
<line x1="343.05" y1="384.4" x2="343.05" y2="387.2" stroke="#4a4a4a" stroke-width="0.9"/>
<text transform="translate(345.00 397.70) scale(0.91 1)" font-size="14.2" text-anchor="middle" fill="#26232a">20</text>
<line x1="365.10" y1="384.4" x2="365.10" y2="387.2" stroke="#4a4a4a" stroke-width="0.9"/>
<text transform="translate(366.80 397.70) scale(0.91 1)" font-size="14.2" text-anchor="middle" fill="#26232a">40</text>
<line x1="387.15" y1="384.4" x2="387.15" y2="387.2" stroke="#4a4a4a" stroke-width="0.9"/>
<text transform="translate(389.20 397.70) scale(0.91 1)" font-size="14.2" text-anchor="middle" fill="#26232a">60</text>
<line x1="409.20" y1="384.4" x2="409.20" y2="387.2" stroke="#4a4a4a" stroke-width="0.9"/>
<text transform="translate(412.00 397.70) scale(0.91 1)" font-size="14.2" text-anchor="middle" fill="#26232a">80</text>
<line x1="431.25" y1="384.4" x2="431.25" y2="387.2" stroke="#4a4a4a" stroke-width="0.9"/>
<text transform="translate(435.00 397.70) scale(0.91 1)" font-size="14.2" text-anchor="middle" fill="#26232a">100</text>
<line x1="453.30" y1="384.4" x2="453.30" y2="387.2" stroke="#4a4a4a" stroke-width="0.9"/>
<text transform="translate(457.50 397.70) scale(0.91 1)" font-size="14.2" text-anchor="middle" fill="#26232a">120</text>
<line x1="475.35" y1="384.4" x2="475.35" y2="387.2" stroke="#4a4a4a" stroke-width="0.9"/>
<text transform="translate(479.50 397.70) scale(0.91 1)" font-size="14.2" text-anchor="middle" fill="#26232a">140</text>
<line x1="497.40" y1="384.4" x2="497.40" y2="387.2" stroke="#4a4a4a" stroke-width="0.9"/>
<text transform="translate(501.30 397.70) scale(0.91 1)" font-size="14.2" text-anchor="middle" fill="#26232a">160</text>
<circle cx="324.31" cy="381.17" r="2.9" fill="#dcc4e1"/>
<circle cx="325.41" cy="380.29" r="2.9" fill="#dcc4e1"/>
<circle cx="326.51" cy="379.41" r="2.9" fill="#dcc4e1"/>
<circle cx="327.62" cy="378.54" r="2.9" fill="#dcc4e1"/>
<circle cx="328.72" cy="377.66" r="2.9" fill="#dcc4e1"/>
<circle cx="329.82" cy="376.78" r="2.9" fill="#dcc4e1"/>
<circle cx="330.92" cy="375.90" r="2.9" fill="#dcc4e1"/>
<circle cx="332.02" cy="375.03" r="2.9" fill="#dcc4e1"/>
<circle cx="333.13" cy="374.15" r="2.9" fill="#dcc4e1"/>
<circle cx="334.23" cy="373.27" r="2.9" fill="#dcc4e1"/>
<circle cx="344.04" cy="365.46" r="2.9" fill="#dcc4e1"/>
<rect x="351.47" y="354.88" width="5.2" height="5.2" fill="#6bb2ae"/>
<rect x="356.99" y="350.49" width="5.2" height="5.2" fill="#6bb2ae"/>
<rect x="361.40" y="346.98" width="5.2" height="5.2" fill="#6bb2ae"/>
<rect x="385.65" y="327.67" width="5.2" height="5.2" fill="#6bb2ae"/>
<rect x="388.96" y="325.04" width="5.2" height="5.2" fill="#6bb2ae"/>
<rect x="392.27" y="322.41" width="5.2" height="5.2" fill="#6bb2ae"/>
<rect x="401.09" y="315.39" width="5.2" height="5.2" fill="#6bb2ae"/>
<rect x="403.29" y="313.63" width="5.2" height="5.2" fill="#6bb2ae"/>
<rect x="408.80" y="309.25" width="5.2" height="5.2" fill="#6bb2ae"/>
<rect x="414.32" y="304.86" width="5.2" height="5.2" fill="#6bb2ae"/>
<rect x="419.83" y="300.47" width="5.2" height="5.2" fill="#6bb2ae"/>
<rect x="420.93" y="299.59" width="5.2" height="5.2" fill="#6bb2ae"/>
<rect x="422.03" y="298.71" width="5.2" height="5.2" fill="#6bb2ae"/>
<rect x="423.14" y="297.84" width="5.2" height="5.2" fill="#6bb2ae"/>
<rect x="424.24" y="296.96" width="5.2" height="5.2" fill="#6bb2ae"/>
<rect x="425.34" y="296.08" width="5.2" height="5.2" fill="#6bb2ae"/>
<rect x="426.44" y="295.20" width="5.2" height="5.2" fill="#6bb2ae"/>
<rect x="427.55" y="294.33" width="5.2" height="5.2" fill="#6bb2ae"/>
<rect x="428.65" y="293.45" width="5.2" height="5.2" fill="#6bb2ae"/>
<rect x="429.75" y="292.57" width="5.2" height="5.2" fill="#6bb2ae"/>
<rect x="430.85" y="291.69" width="5.2" height="5.2" fill="#6bb2ae"/>
<rect x="436.37" y="287.31" width="5.2" height="5.2" fill="#6bb2ae"/>
<rect x="437.47" y="286.43" width="5.2" height="5.2" fill="#6bb2ae"/>
<rect x="438.57" y="285.55" width="5.2" height="5.2" fill="#6bb2ae"/>
<rect x="439.67" y="284.68" width="5.2" height="5.2" fill="#6bb2ae"/>
<rect x="440.78" y="283.80" width="5.2" height="5.2" fill="#6bb2ae"/>
<rect x="441.88" y="282.92" width="5.2" height="5.2" fill="#6bb2ae"/>
<rect x="442.98" y="282.04" width="5.2" height="5.2" fill="#6bb2ae"/>
<rect x="444.08" y="281.16" width="5.2" height="5.2" fill="#6bb2ae"/>
<rect x="445.19" y="280.29" width="5.2" height="5.2" fill="#6bb2ae"/>
<rect x="446.29" y="279.41" width="5.2" height="5.2" fill="#6bb2ae"/>
<rect x="447.39" y="278.53" width="5.2" height="5.2" fill="#6bb2ae"/>
<rect x="448.50" y="277.65" width="5.2" height="5.2" fill="#6bb2ae"/>
<rect x="449.60" y="276.78" width="5.2" height="5.2" fill="#6bb2ae"/>
<rect x="450.70" y="275.90" width="5.2" height="5.2" fill="#6bb2ae"/>
<rect x="451.80" y="275.02" width="5.2" height="5.2" fill="#6bb2ae"/>
<rect x="452.90" y="274.14" width="5.2" height="5.2" fill="#6bb2ae"/>
<rect x="454.01" y="273.27" width="5.2" height="5.2" fill="#6bb2ae"/>
<rect x="455.11" y="272.39" width="5.2" height="5.2" fill="#6bb2ae"/>
<rect x="456.21" y="271.51" width="5.2" height="5.2" fill="#6bb2ae"/>
<rect x="463.93" y="265.37" width="5.2" height="5.2" fill="#6bb2ae"/>
<rect x="466.13" y="263.62" width="5.2" height="5.2" fill="#6bb2ae"/>
<rect x="470.54" y="260.11" width="5.2" height="5.2" fill="#6bb2ae"/>
<rect x="473.85" y="257.47" width="5.2" height="5.2" fill="#6bb2ae"/>
<rect x="477.16" y="254.84" width="5.2" height="5.2" fill="#6bb2ae"/>
<line x1="346" y1="365.6" x2="372.7" y2="365.6" stroke="#4a4a4a" stroke-width="0.9"/>
<text transform="translate(376.00 370.00) scale(0.9 1)" font-size="14.2" text-anchor="start" fill="#26232a">20.9</text>
<text transform="translate(287.50 310.00) rotate(-90) scale(0.9 1)" font-size="14.4" text-anchor="middle" fill="#26232a">Q<tspan font-size="8.4" dy="4.6" dx="0">120</tspan></text>
<text transform="translate(395.00 414.00) scale(0.9 1)" font-size="14.4" text-anchor="start" fill="#26232a">Q<tspan font-size="8" dy="4.4" dx="0">120</tspan></text>
<path d="M577.7 243 V384.4 H754.4" fill="none" stroke="#4a4a4a" stroke-width="1"/>
<text transform="translate(538.00 244.00) scale(0.9 1)" font-size="14.4" text-anchor="start" fill="#26232a">F</text>
<line x1="574.7" y1="375.40" x2="577.7" y2="375.40" stroke="#4a4a4a" stroke-width="0.9"/>
<text transform="translate(572.40 379.70) scale(0.91 1)" font-size="14.2" text-anchor="end" fill="#26232a">0</text>
<line x1="574.7" y1="357.74" x2="577.7" y2="357.74" stroke="#4a4a4a" stroke-width="0.9"/>
<text transform="translate(572.40 361.92) scale(0.91 1)" font-size="14.2" text-anchor="end" fill="#26232a">20</text>
<line x1="574.7" y1="340.08" x2="577.7" y2="340.08" stroke="#4a4a4a" stroke-width="0.9"/>
<text transform="translate(572.40 344.14) scale(0.91 1)" font-size="14.2" text-anchor="end" fill="#26232a">40</text>
<line x1="574.7" y1="322.42" x2="577.7" y2="322.42" stroke="#4a4a4a" stroke-width="0.9"/>
<text transform="translate(572.40 326.36) scale(0.91 1)" font-size="14.2" text-anchor="end" fill="#26232a">60</text>
<line x1="574.7" y1="304.76" x2="577.7" y2="304.76" stroke="#4a4a4a" stroke-width="0.9"/>
<text transform="translate(572.40 308.58) scale(0.91 1)" font-size="14.2" text-anchor="end" fill="#26232a">80</text>
<line x1="574.7" y1="287.10" x2="577.7" y2="287.10" stroke="#4a4a4a" stroke-width="0.9"/>
<text transform="translate(572.40 290.80) scale(0.91 1)" font-size="14.2" text-anchor="end" fill="#26232a">100</text>
<line x1="574.7" y1="269.44" x2="577.7" y2="269.44" stroke="#4a4a4a" stroke-width="0.9"/>
<text transform="translate(572.40 273.02) scale(0.91 1)" font-size="14.2" text-anchor="end" fill="#26232a">120</text>
<line x1="574.7" y1="251.78" x2="577.7" y2="251.78" stroke="#4a4a4a" stroke-width="0.9"/>
<text transform="translate(572.40 255.24) scale(0.91 1)" font-size="14.2" text-anchor="end" fill="#26232a">140</text>
<line x1="588.70" y1="384.4" x2="588.70" y2="387.2" stroke="#4a4a4a" stroke-width="0.9"/>
<text transform="translate(590.00 397.70) scale(0.885 1)" font-size="14.2" text-anchor="middle" fill="#26232a">0</text>
<line x1="610.76" y1="384.4" x2="610.76" y2="387.2" stroke="#4a4a4a" stroke-width="0.9"/>
<text transform="translate(612.35 397.70) scale(0.885 1)" font-size="14.2" text-anchor="middle" fill="#26232a">20</text>
<line x1="632.82" y1="384.4" x2="632.82" y2="387.2" stroke="#4a4a4a" stroke-width="0.9"/>
<text transform="translate(634.70 397.70) scale(0.885 1)" font-size="14.2" text-anchor="middle" fill="#26232a">40</text>
<line x1="654.88" y1="384.4" x2="654.88" y2="387.2" stroke="#4a4a4a" stroke-width="0.9"/>
<text transform="translate(657.05 397.70) scale(0.885 1)" font-size="14.2" text-anchor="middle" fill="#26232a">60</text>
<line x1="676.94" y1="384.4" x2="676.94" y2="387.2" stroke="#4a4a4a" stroke-width="0.9"/>
<text transform="translate(679.40 397.70) scale(0.885 1)" font-size="14.2" text-anchor="middle" fill="#26232a">80</text>
<line x1="699.00" y1="384.4" x2="699.00" y2="387.2" stroke="#4a4a4a" stroke-width="0.9"/>
<text transform="translate(701.75 397.70) scale(0.885 1)" font-size="14.2" text-anchor="middle" fill="#26232a">100</text>
<line x1="721.06" y1="384.4" x2="721.06" y2="387.2" stroke="#4a4a4a" stroke-width="0.9"/>
<text transform="translate(724.10 397.70) scale(0.885 1)" font-size="14.2" text-anchor="middle" fill="#26232a">120</text>
<line x1="743.12" y1="384.4" x2="743.12" y2="387.2" stroke="#4a4a4a" stroke-width="0.9"/>
<text transform="translate(746.45 397.70) scale(0.885 1)" font-size="14.2" text-anchor="middle" fill="#26232a">140</text>
<circle cx="589.25" cy="374.96" r="2.9" fill="#dcc4e1"/>
<circle cx="590.35" cy="374.08" r="2.9" fill="#dcc4e1"/>
<circle cx="591.46" cy="373.19" r="2.9" fill="#dcc4e1"/>
<circle cx="592.56" cy="372.31" r="2.9" fill="#dcc4e1"/>
<circle cx="593.66" cy="371.43" r="2.9" fill="#dcc4e1"/>
<circle cx="594.77" cy="370.54" r="2.9" fill="#dcc4e1"/>
<circle cx="595.87" cy="369.66" r="2.9" fill="#dcc4e1"/>
<circle cx="596.97" cy="368.78" r="2.9" fill="#dcc4e1"/>
<circle cx="598.08" cy="367.89" r="2.9" fill="#dcc4e1"/>
<circle cx="599.18" cy="367.01" r="2.9" fill="#dcc4e1"/>
<circle cx="600.28" cy="366.13" r="2.9" fill="#dcc4e1"/>
<circle cx="601.38" cy="365.25" r="2.9" fill="#dcc4e1"/>
<circle cx="602.49" cy="364.36" r="2.9" fill="#dcc4e1"/>
<circle cx="603.59" cy="363.48" r="2.9" fill="#dcc4e1"/>
<circle cx="604.69" cy="362.60" r="2.9" fill="#dcc4e1"/>
<circle cx="605.80" cy="361.71" r="2.9" fill="#dcc4e1"/>
<circle cx="606.90" cy="360.83" r="2.9" fill="#dcc4e1"/>
<circle cx="608.00" cy="359.95" r="2.9" fill="#dcc4e1"/>
<circle cx="609.11" cy="359.06" r="2.9" fill="#dcc4e1"/>
<circle cx="610.21" cy="358.18" r="2.9" fill="#dcc4e1"/>
<circle cx="611.31" cy="357.30" r="2.9" fill="#dcc4e1"/>
<circle cx="611.42" cy="357.21" r="2.9" fill="#dcc4e1"/>
<circle cx="636.13" cy="337.43" r="2.9" fill="#dcc4e1"/>
<rect x="612.57" y="351.61" width="5.2" height="5.2" fill="#6bb2ae"/>
<rect x="619.19" y="346.31" width="5.2" height="5.2" fill="#6bb2ae"/>
<rect x="622.50" y="343.66" width="5.2" height="5.2" fill="#6bb2ae"/>
<rect x="626.91" y="340.13" width="5.2" height="5.2" fill="#6bb2ae"/>
<rect x="636.84" y="332.18" width="5.2" height="5.2" fill="#6bb2ae"/>
<rect x="640.15" y="329.53" width="5.2" height="5.2" fill="#6bb2ae"/>
<rect x="644.56" y="326.00" width="5.2" height="5.2" fill="#6bb2ae"/>
<rect x="663.31" y="310.99" width="5.2" height="5.2" fill="#6bb2ae"/>
<rect x="665.52" y="309.22" width="5.2" height="5.2" fill="#6bb2ae"/>
<rect x="668.83" y="306.57" width="5.2" height="5.2" fill="#6bb2ae"/>
<rect x="676.55" y="300.39" width="5.2" height="5.2" fill="#6bb2ae"/>
<rect x="683.16" y="295.10" width="5.2" height="5.2" fill="#6bb2ae"/>
<rect x="686.47" y="292.45" width="5.2" height="5.2" fill="#6bb2ae"/>
<rect x="687.58" y="291.56" width="5.2" height="5.2" fill="#6bb2ae"/>
<rect x="688.68" y="290.68" width="5.2" height="5.2" fill="#6bb2ae"/>
<rect x="689.78" y="289.80" width="5.2" height="5.2" fill="#6bb2ae"/>
<rect x="690.88" y="288.91" width="5.2" height="5.2" fill="#6bb2ae"/>
<rect x="691.99" y="288.03" width="5.2" height="5.2" fill="#6bb2ae"/>
<rect x="693.09" y="287.15" width="5.2" height="5.2" fill="#6bb2ae"/>
<rect x="694.19" y="286.27" width="5.2" height="5.2" fill="#6bb2ae"/>
<rect x="695.30" y="285.38" width="5.2" height="5.2" fill="#6bb2ae"/>
<rect x="696.40" y="284.50" width="5.2" height="5.2" fill="#6bb2ae"/>
<rect x="697.50" y="283.62" width="5.2" height="5.2" fill="#6bb2ae"/>
<rect x="698.61" y="282.73" width="5.2" height="5.2" fill="#6bb2ae"/>
<rect x="703.02" y="279.20" width="5.2" height="5.2" fill="#6bb2ae"/>
<rect x="704.12" y="278.32" width="5.2" height="5.2" fill="#6bb2ae"/>
<rect x="705.22" y="277.44" width="5.2" height="5.2" fill="#6bb2ae"/>
<rect x="706.33" y="276.55" width="5.2" height="5.2" fill="#6bb2ae"/>
<rect x="707.43" y="275.67" width="5.2" height="5.2" fill="#6bb2ae"/>
<rect x="708.53" y="274.79" width="5.2" height="5.2" fill="#6bb2ae"/>
<rect x="709.64" y="273.90" width="5.2" height="5.2" fill="#6bb2ae"/>
<rect x="710.74" y="273.02" width="5.2" height="5.2" fill="#6bb2ae"/>
<rect x="711.84" y="272.14" width="5.2" height="5.2" fill="#6bb2ae"/>
<rect x="712.95" y="271.25" width="5.2" height="5.2" fill="#6bb2ae"/>
<rect x="714.05" y="270.37" width="5.2" height="5.2" fill="#6bb2ae"/>
<rect x="715.15" y="269.49" width="5.2" height="5.2" fill="#6bb2ae"/>
<rect x="716.25" y="268.61" width="5.2" height="5.2" fill="#6bb2ae"/>
<rect x="717.36" y="267.72" width="5.2" height="5.2" fill="#6bb2ae"/>
<rect x="718.46" y="266.84" width="5.2" height="5.2" fill="#6bb2ae"/>
<rect x="719.56" y="265.96" width="5.2" height="5.2" fill="#6bb2ae"/>
<rect x="720.67" y="265.07" width="5.2" height="5.2" fill="#6bb2ae"/>
<rect x="721.77" y="264.19" width="5.2" height="5.2" fill="#6bb2ae"/>
<rect x="735.00" y="253.59" width="5.2" height="5.2" fill="#6bb2ae"/>
<line x1="612.2" y1="357.1" x2="636.6" y2="357.1" stroke="#4a4a4a" stroke-width="0.9"/>
<text transform="translate(639.70 361.70) scale(0.9 1)" font-size="14.2" text-anchor="start" fill="#26232a">20.6</text>
<text transform="translate(546.80 311.30) rotate(-90) scale(0.9 1)" font-size="14.4" text-anchor="middle" fill="#26232a">Q<tspan font-size="8.4" dy="4.6" dx="0">120</tspan></text>
<text transform="translate(651.00 414.00) scale(0.9 1)" font-size="14.4" text-anchor="start" fill="#26232a">Q<tspan font-size="8" dy="4.4" dx="0">120</tspan></text>
<rect x="372.7" y="231.2" width="5.4" height="5.4" fill="#6bb2ae"/>
<text transform="translate(389.70 237.60) scale(0.87 1)" font-size="14.4" text-anchor="start" fill="#26232a">Vital</text>
<circle cx="429.8" cy="234" r="2.8" fill="#dcc4e1"/>
<text transform="translate(444.70 237.60) scale(0.905 1)" font-size="14.4" text-anchor="start" fill="#26232a">Dead</text>
<rect x="57" y="443.2" width="165.90" height="158.30" fill="#e8eef6"/>
<rect x="57" y="443.2" width="17" height="158.30" fill="#e3eaf3"/>
<rect x="79.2" y="464.8" width="71.80" height="68.00" fill="#aed3d4"/>
<rect x="151" y="464.8" width="71.60" height="68.00" fill="#dcc6dd"/>
<rect x="79.2" y="532.8" width="71.80" height="68.20" fill="#dcc6dd"/>
<rect x="151" y="532.8" width="71.60" height="68.20" fill="#aed3d4"/>
<rect x="79.2" y="464.8" width="143.40" height="136.20" fill="none" stroke="#6b7172" stroke-width="1.1"/>
<line x1="115.5" y1="462.3" x2="115.5" y2="464.8" stroke="#555" stroke-width="0.9"/>
<line x1="187.3" y1="462.3" x2="187.3" y2="464.8" stroke="#555" stroke-width="0.9"/>
<line x1="76.7" y1="497.7" x2="79.2" y2="497.7" stroke="#555" stroke-width="0.9"/>
<line x1="76.7" y1="567.5" x2="79.2" y2="567.5" stroke="#555" stroke-width="0.9"/>
<text transform="translate(24.50 443.20) scale(0.9 1)" font-size="14.4" text-anchor="start" fill="#26232a">G</text>
<text transform="translate(97.40 437.00) scale(0.915 1)" font-size="14.4" text-anchor="start" fill="#26232a">Predicted label</text>
<text transform="translate(99.90 454.70) scale(0.905 1)" font-size="14.4" text-anchor="start" fill="#26232a">Dead</text>
<text transform="translate(169.80 454.70) scale(0.85 1)" font-size="14.4" text-anchor="start" fill="#26232a">Vital</text>
<text transform="translate(45.20 524.70) rotate(-90) scale(0.915 1)" font-size="14.4" text-anchor="middle" fill="#26232a">True label</text>
<text transform="translate(70.30 493.20) rotate(-90) scale(0.905 1)" font-size="14.4" text-anchor="middle" fill="#26232a">Dead</text>
<text transform="translate(69.30 562.00) rotate(-90) scale(0.85 1)" font-size="14.4" text-anchor="middle" fill="#26232a">Vital</text>
<text transform="translate(113.40 502.80) scale(0.92 1)" font-size="14.4" text-anchor="middle" fill="#2b2a33">3</text>
<text transform="translate(182.70 502.80) scale(0.92 1)" font-size="14.4" text-anchor="middle" fill="#2b2a33">0</text>
<text transform="translate(113.40 566.80) scale(0.92 1)" font-size="14.4" text-anchor="middle" fill="#2b2a33">3</text>
<text transform="translate(186.00 566.80) scale(0.92 1)" font-size="14.4" text-anchor="middle" fill="#2b2a33">31</text>
<rect x="322.4" y="442.5" width="166.70" height="158.40" fill="#e8eef6"/>
<rect x="322.4" y="442.5" width="17" height="158.40" fill="#e3eaf3"/>
<rect x="345.2" y="464" width="71.10" height="68.30" fill="#aed3d4"/>
<rect x="416.3" y="464" width="72.50" height="68.30" fill="#dcc6dd"/>
<rect x="345.2" y="532.3" width="71.10" height="68.10" fill="#dcc6dd"/>
<rect x="416.3" y="532.3" width="72.50" height="68.10" fill="#aed3d4"/>
<rect x="345.2" y="464" width="143.60" height="136.40" fill="none" stroke="#6b7172" stroke-width="1.1"/>
<line x1="380.8" y1="461.5" x2="380.8" y2="464" stroke="#555" stroke-width="0.9"/>
<line x1="452.4" y1="461.5" x2="452.4" y2="464" stroke="#555" stroke-width="0.9"/>
<line x1="342.7" y1="497.7" x2="345.2" y2="497.7" stroke="#555" stroke-width="0.9"/>
<line x1="342.7" y1="565.9" x2="345.2" y2="565.9" stroke="#555" stroke-width="0.9"/>
<text transform="translate(277.00 443.20) scale(0.9 1)" font-size="14.4" text-anchor="start" fill="#26232a">H</text>
<text transform="translate(365.00 440.70) scale(0.915 1)" font-size="14.4" text-anchor="start" fill="#26232a">Predicted label</text>
<text transform="translate(367.40 459.50) scale(0.905 1)" font-size="14.4" text-anchor="start" fill="#26232a">Dead</text>
<text transform="translate(437.90 459.50) scale(0.85 1)" font-size="14.4" text-anchor="start" fill="#26232a">Vital</text>
<text transform="translate(313.00 529.20) rotate(-90) scale(0.915 1)" font-size="14.4" text-anchor="middle" fill="#26232a">True label</text>
<text transform="translate(337.30 498.00) rotate(-90) scale(0.905 1)" font-size="14.4" text-anchor="middle" fill="#26232a">Dead</text>
<text transform="translate(335.00 566.00) rotate(-90) scale(0.85 1)" font-size="14.4" text-anchor="middle" fill="#26232a">Vital</text>
<text transform="translate(381.30 504.70) scale(0.92 1)" font-size="14.4" text-anchor="middle" fill="#2b2a33">4</text>
<text transform="translate(451.20 504.70) scale(0.92 1)" font-size="14.4" text-anchor="middle" fill="#2b2a33">0</text>
<text transform="translate(381.60 571.30) scale(0.92 1)" font-size="14.4" text-anchor="middle" fill="#2b2a33">0</text>
<text transform="translate(451.70 571.30) scale(0.92 1)" font-size="14.4" text-anchor="middle" fill="#2b2a33">40</text>
<rect x="577" y="443" width="165.70" height="157.90" fill="#e8eef6"/>
<rect x="577" y="443" width="17" height="157.90" fill="#e3eaf3"/>
<rect x="599.5" y="464.2" width="72.50" height="68.50" fill="#aed3d4"/>
<rect x="672" y="464.2" width="70.40" height="68.50" fill="#dcc6dd"/>
<rect x="599.5" y="532.7" width="72.50" height="67.70" fill="#dcc6dd"/>
<rect x="672" y="532.7" width="70.40" height="67.70" fill="#aed3d4"/>
<path d="M599.5 600.4 V464.2 H742.4" fill="none" stroke="#222" stroke-width="1"/>
<line x1="742.4" y1="464.2" x2="742.4" y2="600.4" stroke="#111" stroke-width="1.6"/>
<line x1="635.5" y1="461.7" x2="635.5" y2="464.2" stroke="#555" stroke-width="0.9"/>
<line x1="705.5" y1="461.7" x2="705.5" y2="464.2" stroke="#555" stroke-width="0.9"/>
<line x1="597.0" y1="498.3" x2="599.5" y2="498.3" stroke="#555" stroke-width="0.9"/>
<line x1="597.0" y1="566.6" x2="599.5" y2="566.6" stroke="#555" stroke-width="0.9"/>
<text transform="translate(537.30 442.70) scale(0.9 1)" font-size="14.4" text-anchor="start" fill="#26232a">I</text>
<text transform="translate(618.30 441.90) scale(0.915 1)" font-size="14.4" text-anchor="start" fill="#26232a">Predicted label</text>
<text transform="translate(620.80 459.50) scale(0.905 1)" font-size="14.4" text-anchor="start" fill="#26232a">Dead</text>
<text transform="translate(690.50 459.50) scale(0.85 1)" font-size="14.4" text-anchor="start" fill="#26232a">Vital</text>
<text transform="translate(566.00 528.70) rotate(-90) scale(0.915 1)" font-size="14.4" text-anchor="middle" fill="#26232a">True label</text>
<text transform="translate(590.60 498.40) rotate(-90) scale(0.905 1)" font-size="14.4" text-anchor="middle" fill="#26232a">Dead</text>
<text transform="translate(588.40 567.00) rotate(-90) scale(0.85 1)" font-size="14.4" text-anchor="middle" fill="#26232a">Vital</text>
<text transform="translate(637.70 506.90) scale(0.92 1)" font-size="14.4" text-anchor="middle" fill="#2b2a33">24</text>
<text transform="translate(706.80 506.90) scale(0.92 1)" font-size="14.4" text-anchor="middle" fill="#2b2a33">0</text>
<text transform="translate(636.90 573.10) scale(0.92 1)" font-size="14.4" text-anchor="middle" fill="#2b2a33">0</text>
<text transform="translate(707.40 573.10) scale(0.92 1)" font-size="14.4" text-anchor="middle" fill="#2b2a33">28</text>
</svg>
</body></html>
